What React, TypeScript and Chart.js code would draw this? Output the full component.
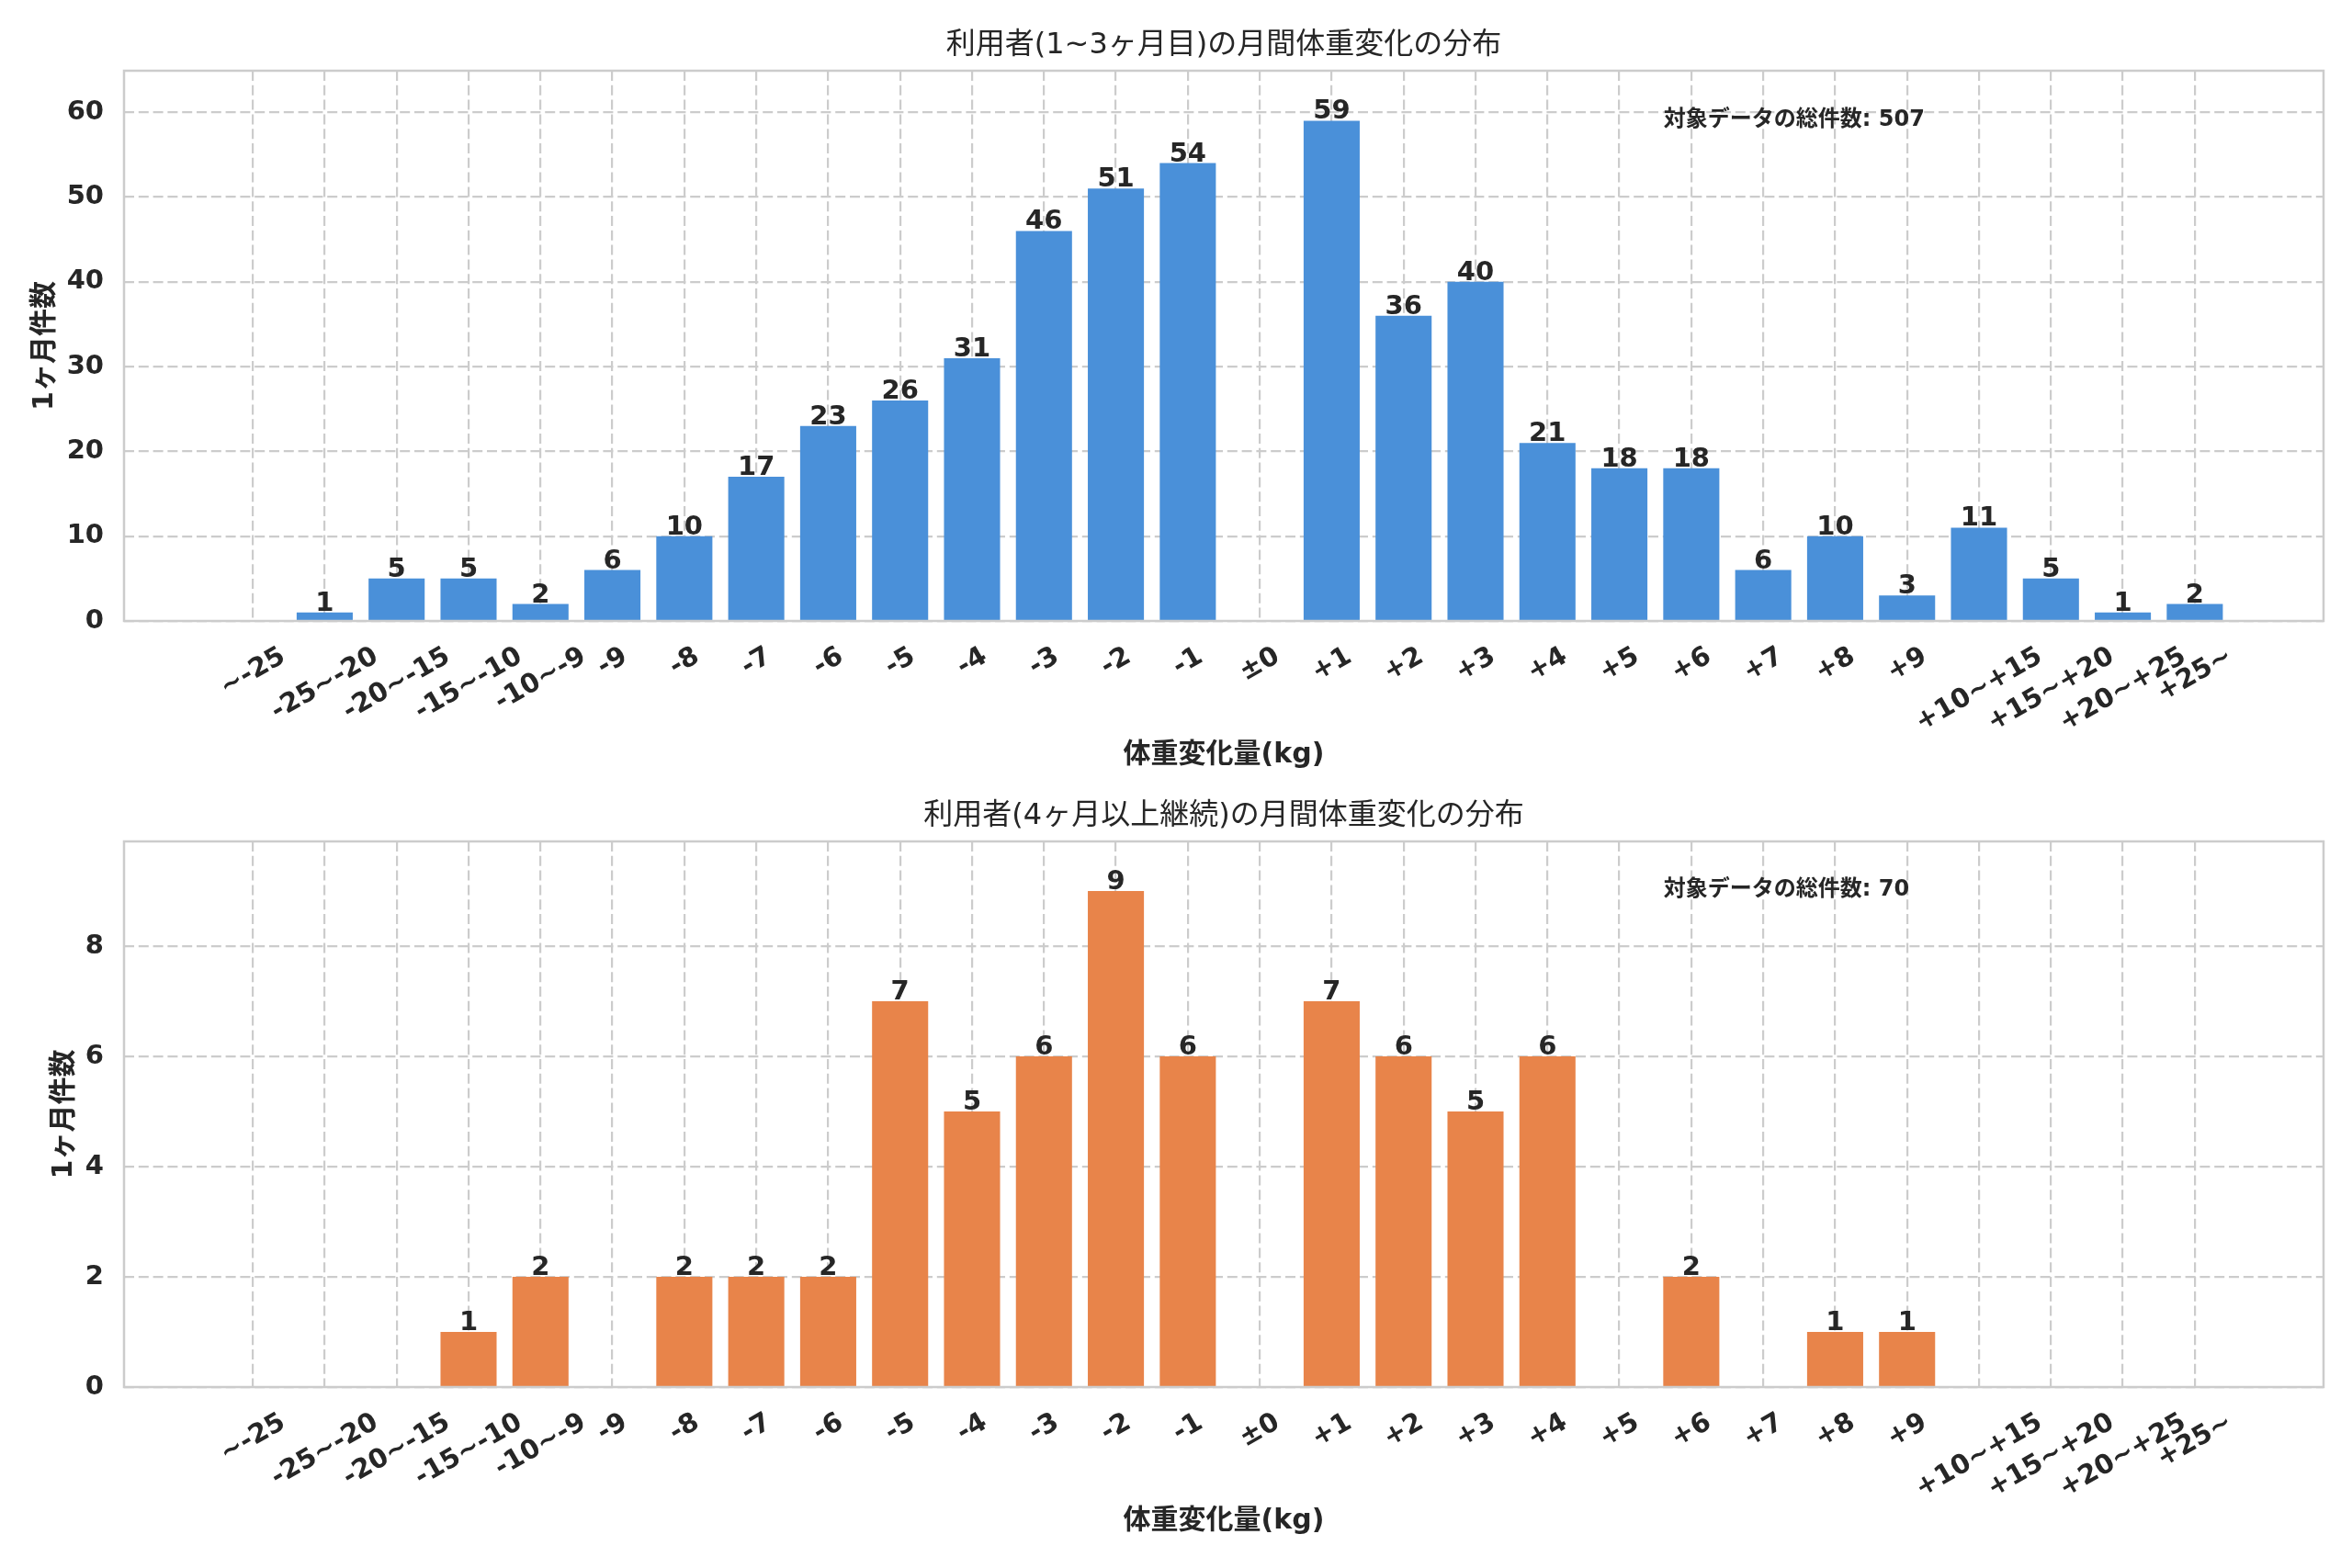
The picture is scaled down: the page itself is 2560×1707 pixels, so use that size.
import { useEffect, useRef } from "react"
import { Chart, registerables, type Plugin } from "chart.js"

Chart.register(...registerables)

// bins of weight change (kg)
const categories = [
  "~-25", "-25~-20", "-20~-15", "-15~-10", "-10~-9",
  "-9", "-8", "-7", "-6", "-5", "-4", "-3", "-2", "-1",
  "±0",
  "+1", "+2", "+3", "+4", "+5", "+6", "+7", "+8", "+9",
  "+10~+15", "+15~+20", "+20~+25", "+25~",
]

// counts per bin, 1-3 months
const shortTermCounts = [0, 1, 5, 5, 2, 6, 10, 17, 23, 26, 31, 46, 51, 54, 0, 59, 36, 40, 21, 18, 18, 6, 10, 3, 11, 5, 1, 2]

// counts per bin, 4 months and longer
const longTermCounts = [0, 0, 0, 1, 2, 0, 2, 2, 2, 7, 5, 6, 9, 6, 0, 7, 6, 5, 6, 0, 2, 0, 1, 1, 0, 0, 0, 0]

const TITLE_SHORT = "利用者(1~3ヶ月目)の月間体重変化の分布"
const TITLE_LONG = "利用者(4ヶ月以上継続)の月間体重変化の分布"
const X_LABEL = "体重変化量(kg)"
const Y_LABEL = "1ヶ月件数"
const TOTAL_LABEL = "対象データの総件数"

const FONT = "'DejaVu Sans', 'Noto Sans CJK JP', sans-serif"
const TEXT_COLOR = "#262626"
const GRID_COLOR = "#cccccc"
const TICK_SIZE = 29

interface PanelProps {
  values: number[]
  color: string
  title: string
  yStep: number
  height: number
  plotTop: number
  plotBottom: number
  yLabelX: number
}

function HistogramPanel({ values, color, title, yStep, height, plotTop, plotBottom, yLabelX }: PanelProps) {
  const canvasRef = useRef<HTMLCanvasElement>(null)

  useEffect(() => {
    const canvas = canvasRef.current
    if (!canvas) return

    const total = values.reduce((a, b) => a + b, 0)
    const yMax = Math.max(...values) * 1.1
    // matplotlib-like x margins: half bar + 5% of the span
    const n = categories.length
    const pad = 0.4 + 0.05 * (n - 1 + 0.8)

    const textPlugin: Plugin<"bar"> = {
      id: "panelText",
      afterDatasetsDraw(chart) {
        const { ctx, chartArea, scales } = chart
        const xScale = scales.x
        const w = chartArea.right - chartArea.left
        const h = chartArea.bottom - chartArea.top
        ctx.save()

        // frame
        ctx.setLineDash([])
        ctx.strokeStyle = GRID_COLOR
        ctx.lineWidth = 2.5
        ctx.strokeRect(chartArea.left, chartArea.top, w, h)

        ctx.fillStyle = TEXT_COLOR

        // values on top of bars
        ctx.font = `bold ${TICK_SIZE}px ${FONT}`
        ctx.textAlign = "center"
        ctx.textBaseline = "alphabetic"
        chart.getDatasetMeta(0).data.forEach((bar, i) => {
          if (values[i] > 0) ctx.fillText(String(values[i]), bar.x, bar.y - 2)
        })

        // rotated x tick labels, centred under the tick
        const angle = -Math.PI / 6
        const cos = Math.cos(angle)
        const sin = Math.sin(angle)
        ctx.textAlign = "left"
        categories.forEach((label, i) => {
          const tw = ctx.measureText(label).width
          const asc = TICK_SIZE * 0.76
          const desc = TICK_SIZE * 0.21
          const pts = [[0, -asc], [tw, -asc], [0, desc], [tw, desc]].map(([px, py]) => [
            px * cos - py * sin,
            px * sin + py * cos,
          ])
          const xs = pts.map((p) => p[0])
          const ys = pts.map((p) => p[1])
          const cx = (Math.min(...xs) + Math.max(...xs)) / 2
          const top = Math.min(...ys)
          ctx.save()
          ctx.translate(xScale.getPixelForValue(i) - cx, chartArea.bottom + 24 - top)
          ctx.rotate(angle)
          ctx.fillText(label, 0, 0)
          ctx.restore()
        })

        // title
        ctx.textAlign = "center"
        ctx.textBaseline = "middle"
        ctx.font = `normal 32px ${FONT}`
        ctx.fillText(title, (chartArea.left + chartArea.right) / 2, chartArea.top - 27)

        // x axis label
        ctx.font = `bold 30px ${FONT}`
        ctx.fillText(X_LABEL, (chartArea.left + chartArea.right) / 2, chartArea.bottom + 146)

        // y axis label
        ctx.save()
        ctx.translate(yLabelX, (chartArea.top + chartArea.bottom) / 2)
        ctx.rotate(-Math.PI / 2)
        ctx.fillText(Y_LABEL, 0, 0)
        ctx.restore()

        // total annotation
        ctx.textAlign = "left"
        ctx.textBaseline = "alphabetic"
        ctx.font = `bold 24px ${FONT}`
        ctx.fillText(`${TOTAL_LABEL}: ${total}`, chartArea.left + 0.7 * w, chartArea.top + 0.1 * h)

        ctx.restore()
      },
    }

    const chart = new Chart(canvas, {
      type: "bar",
      data: {
        datasets: [
          {
            data: values.map((v, i) => ({ x: i, y: v })),
            backgroundColor: color,
            borderWidth: 0,
            barPercentage: 0.78,
            categoryPercentage: 1,
          },
        ],
      },
      options: {
        responsive: false,
        animation: false,
        devicePixelRatio: 1,
        layout: { padding: { top: plotTop, bottom: height - plotBottom, left: 0, right: 31 } },
        plugins: { legend: { display: false }, tooltip: { enabled: false } },
        scales: {
          x: {
            type: "linear",
            offset: false,
            min: -pad,
            max: n - 1 + pad,
            afterFit: (scale) => {
              scale.height = 0
            },
            afterBuildTicks: (scale) => {
              scale.ticks = scale.ticks.filter((t) => t.value >= 0 && t.value <= n - 1 && Number.isInteger(t.value))
            },
            ticks: { display: false, stepSize: 1, maxTicksLimit: 100, includeBounds: false },
            grid: { offset: false, color: GRID_COLOR, lineWidth: 2.2, drawTicks: false },
            border: { display: false, dash: [11, 4.8] },
          },
          y: {
            min: 0,
            max: yMax,
            afterFit: (scale) => {
              scale.width = 135
            },
            ticks: {
              stepSize: yStep,
              includeBounds: false,
              padding: 22,
              color: TEXT_COLOR,
              font: { family: FONT, size: TICK_SIZE, weight: "bold" },
            },
            grid: { color: GRID_COLOR, lineWidth: 2.2, drawTicks: false },
            border: { display: false, dash: [11, 4.8] },
          },
        },
      },
      plugins: [textPlugin],
    })

    return () => {
      chart.destroy()
    }
  }, [values, color, title, yStep, height, plotTop, plotBottom, yLabelX])

  return <canvas ref={canvasRef} width={2560} height={height} style={{ display: "block" }} />
}

export default function App() {
  return (
    <div style={{ position: "absolute", left: 0, top: 0, width: 2560, height: 1707, background: "#ffffff" }}>
      <HistogramPanel
        values={shortTermCounts}
        color="#4A90D9"
        title={TITLE_SHORT}
        yStep={10}
        height={854}
        plotTop={77}
        plotBottom={676}
        yLabelX={49}
      />
      <HistogramPanel
        values={longTermCounts}
        color="#E8844A"
        title={TITLE_LONG}
        yStep={2}
        height={853}
        plotTop={62}
        plotBottom={656}
        yLabelX={70}
      />
    </div>
  )
}
